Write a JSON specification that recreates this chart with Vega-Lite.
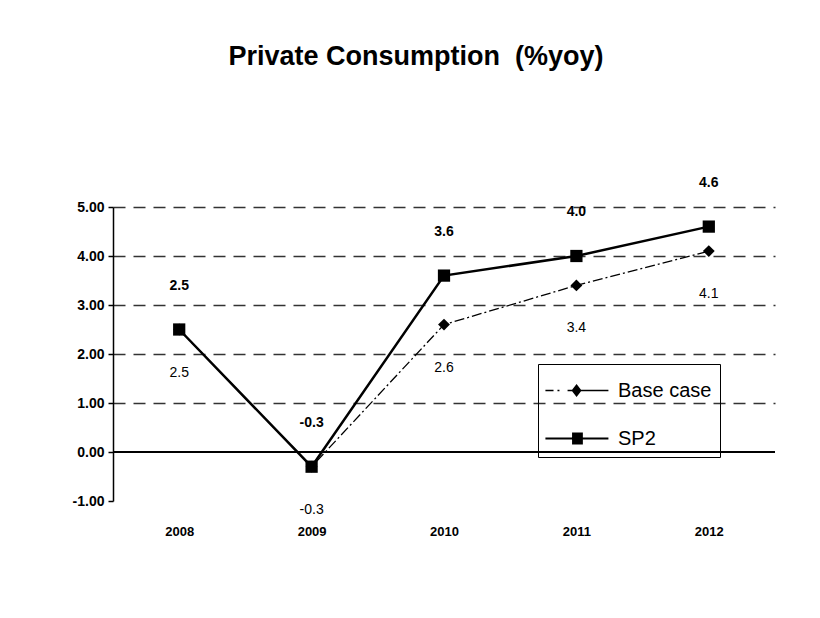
{
  "$schema": "https://vega.github.io/schema/vega-lite/v6.json",
  "width": 662,
  "height": 294,
  "autosize": {"type": "none"},
  "padding": {"left": 113, "top": 207, "right": 45, "bottom": 117},
  "background": "white",
  "title": {"text": "Private Consumption \u00a0(%yoy)", "font": "Liberation Sans", "fontSize": 27, "fontWeight": "bold", "anchor": "middle", "dx": -28, "offset": 105, "color": "black"},
  "config": {
    "view": {"stroke": null},
    "font": "Liberation Sans",
    "locale": {"number": {"decimal": ".", "thousands": ",", "grouping": [3], "currency": ["$", ""], "minus": "-"}}
  },
  "data": {"values": [
    {"year": "2008", "series": "Base case", "value": 2.5},
    {"year": "2009", "series": "Base case", "value": -0.3},
    {"year": "2010", "series": "Base case", "value": 2.6},
    {"year": "2011", "series": "Base case", "value": 3.4},
    {"year": "2012", "series": "Base case", "value": 4.1},
    {"year": "2008", "series": "SP2", "value": 2.5},
    {"year": "2009", "series": "SP2", "value": -0.3},
    {"year": "2010", "series": "SP2", "value": 3.6},
    {"year": "2011", "series": "SP2", "value": 4.0},
    {"year": "2012", "series": "SP2", "value": 4.6}
  ]},
  "layer": [
    {
      "transform": [{"filter": "datum.series === 'Base case'"}],
      "mark": {"type": "line", "color": "black", "strokeWidth": 1.3, "strokeDash": [10, 3, 2, 3]},
      "encoding": {
        "x": {"field": "year", "type": "ordinal", "scale": {"type": "point", "padding": 0.5},
              "axis": {"title": null, "domain": false, "ticks": false, "labelFontWeight": "bold", "labelFontSize": 13, "labelPadding": 24, "labelAngle": 0, "labelColor": "black"}},
        "y": {"field": "value", "type": "quantitative", "scale": {"domain": [-1, 5], "nice": false, "zero": false},
              "axis": {"title": null, "format": ".2f", "values": [-1, 0, 1, 2, 3, 4, 5], "domainColor": "black", "domainWidth": 1.5, "tickColor": "black", "tickSize": 5, "tickWidth": 1.5, "labelFontWeight": "bold", "labelFontSize": 14, "labelPadding": 4, "labelColor": "black",
                       "grid": true, "gridDash": [12, 8], "gridColor": "#333333", "gridWidth": 1.5,
                       "gridOpacity": {"condition": {"test": "datum.value <= 0", "value": 0}, "value": 1}}}
      }
    },
    {
      "transform": [{"filter": "datum.series === 'SP2'"}],
      "mark": {"type": "line", "color": "black", "strokeWidth": 2.5},
      "encoding": {
        "x": {"field": "year", "type": "ordinal"},
        "y": {"field": "value", "type": "quantitative"}
      }
    },
    {
      "mark": {"type": "rule", "color": "black", "strokeWidth": 1.5},
      "encoding": {"y": {"datum": 0}}
    },
    {
      "transform": [{"filter": "datum.series === 'Base case'"}],
      "mark": {"type": "point", "shape": "diamond", "size": 140, "filled": true, "color": "black", "opacity": 1},
      "encoding": {
        "x": {"field": "year", "type": "ordinal"},
        "y": {"field": "value", "type": "quantitative"}
      }
    },
    {
      "transform": [{"filter": "datum.series === 'SP2'"}],
      "mark": {"type": "point", "shape": "square", "size": 150, "filled": true, "color": "black", "opacity": 1},
      "encoding": {
        "x": {"field": "year", "type": "ordinal"},
        "y": {"field": "value", "type": "quantitative"}
      }
    },
    {
      "transform": [{"filter": "datum.series === 'Base case'"}],
      "mark": {"type": "text", "dy": 43, "fontSize": 14, "color": "black"},
      "encoding": {
        "x": {"field": "year", "type": "ordinal"},
        "y": {"field": "value", "type": "quantitative"},
        "text": {"field": "value", "type": "quantitative", "format": ".1f"}
      }
    },
    {
      "transform": [{"filter": "datum.series === 'SP2'"}],
      "mark": {"type": "text", "dy": -44, "fontSize": 14, "fontWeight": "bold", "color": "black"},
      "encoding": {
        "x": {"field": "year", "type": "ordinal"},
        "y": {"field": "value", "type": "quantitative"},
        "text": {"field": "value", "type": "quantitative", "format": ".1f"}
      }
    },
    {
      "mark": {"type": "point", "opacity": 0, "filled": true, "color": "black"},
      "encoding": {
        "x": {"field": "year", "type": "ordinal"},
        "y": {"field": "value", "type": "quantitative"},
        "shape": {"field": "series", "type": "nominal",
          "scale": {"domain": ["Base case", "SP2"], "range": [
            "M-1.06,-0.04L-0.61,-0.04L-0.61,0.04L-1.06,0.04ZM-0.39,-0.04L-0.28,-0.04L-0.28,0.04L-0.39,0.04ZM0.17,-0.04L2.44,-0.04L2.44,0.04L0.17,0.04ZM0.67,-0.36L0.95,0L0.67,0.36L0.39,0Z",
            "M-1.06,-0.06L2.44,-0.06L2.44,0.06L-1.06,0.06ZM0.42,-0.33L1.02,-0.33L1.02,0.33L0.42,0.33Z"]},
          "legend": {"title": null, "orient": "none", "legendX": 425, "legendY": 157, "strokeColor": "black", "padding": 8,
            "symbolSize": 1296, "labelFontSize": 20, "labelFont": "Liberation Sans", "labelColor": "black", "labelOffset": 35, "rowPadding": 19,
            "symbolStrokeWidth": 0.5, "symbolOpacity": 1, "symbolFillColor": "black", "symbolStrokeColor": "black"}
        }
      }
    }
  ]
}
